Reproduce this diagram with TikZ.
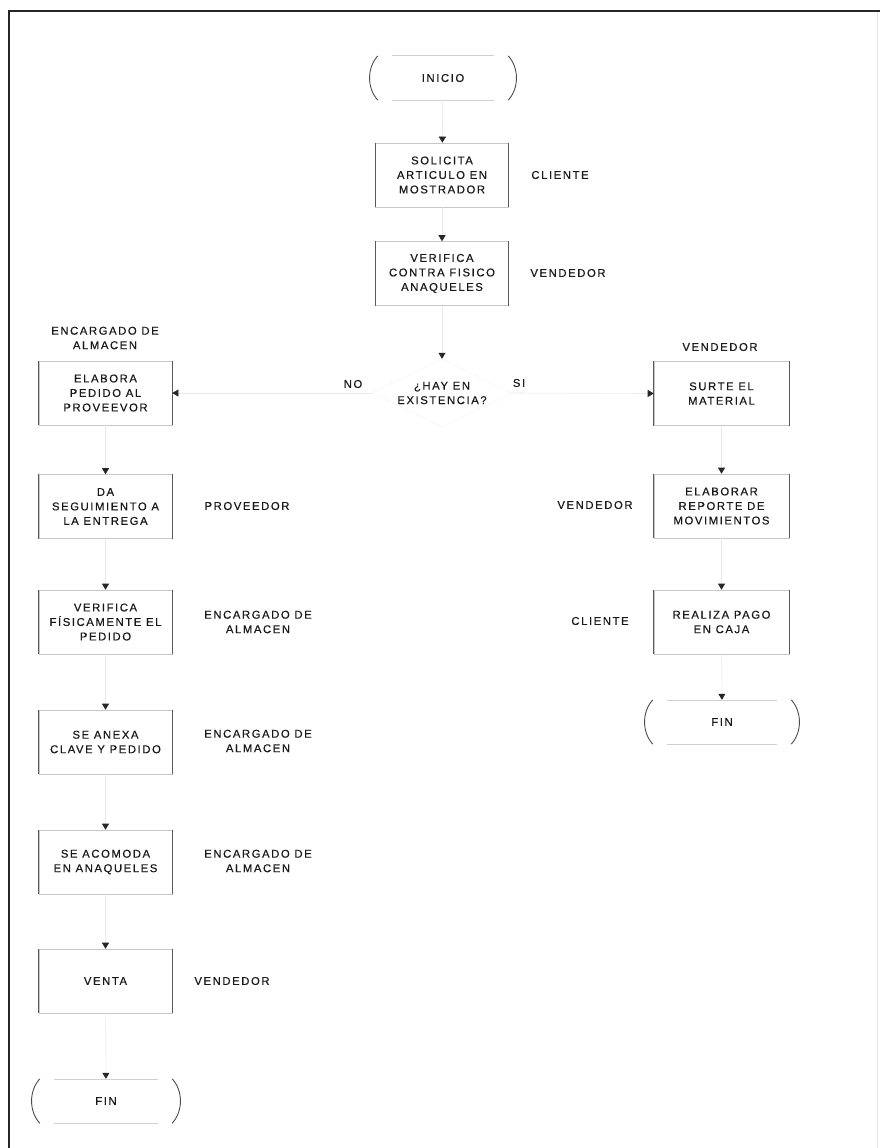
\documentclass[tikz,border=0pt]{standalone}
\usepackage{fontspec}
\setmainfont{Liberation Sans}[LetterSpace=14,FakeBold=0.5]
\usetikzlibrary{arrows.meta,shapes.geometric}
\begin{document}
\begin{tikzpicture}[x=1pt,y=-1pt,
  every node/.style={font=\fontsize{11.3}{14.5}\selectfont, text=black!90},
  box/.style={rectangle, draw=black!22, line width=0.6pt, minimum width=133pt,
    minimum height=64pt, align=center, inner sep=2pt,
    append after command={
      (\tikzlastnode.north west) edge[black!65,line width=0.9pt] (\tikzlastnode.south west)
      (\tikzlastnode.north east) edge[black!65,line width=0.9pt] (\tikzlastnode.south east)}},
  term/.style={rectangle, minimum height=44pt, align=center, inner sep=2pt,
    append after command={
      (\tikzlastnode.north west) edge[black!70,line width=0.9pt,
         to path={.. controls +(-11,12) and +(-11,-12) .. (\tikztotarget)}] (\tikzlastnode.south west)
      (\tikzlastnode.north east) edge[black!70,line width=0.9pt,
         to path={.. controls +(11,12) and +(11,-12) .. (\tikztotarget)}] (\tikzlastnode.south east)
      ([xshift=14pt]\tikzlastnode.north west) edge[black!18,line width=0.6pt] ([xshift=-14pt]\tikzlastnode.north east)
      ([xshift=14pt]\tikzlastnode.south west) edge[black!18,line width=0.6pt] ([xshift=-14pt]\tikzlastnode.south east)}},
  dec/.style={diamond, aspect=2, draw=black!5, inner sep=0pt, minimum width=140pt,
    minimum height=68pt, align=center},
  role/.style={align=center},
  conn/.style={draw=black!9, line width=0.6pt,
    -{Triangle[length=6pt,width=7pt,color=black!85]}}
]
\useasboundingbox (0,0) rectangle (880,1148);
% frame
\draw[black!85,line width=1.3pt] (9,1148) -- (9,11) -- (880,11);
\draw[black!10,line width=0.6pt] (877,12) -- (877,1148);

% center column
\node[term, minimum width=130pt] (ini) at (443,78) {INICIO};
\node[box] (sol) at (442,175) {SOLICITA\\ARTICULO EN\\MOSTRADOR};
\node[box] (ver) at (442,273.5) {VERIFICA\\CONTRA FISICO\\ANAQUELES};
\node[dec] (dec) at (442,393) {¿HAY EN\\EXISTENCIA?};
\node (no) at (353,384) {NO};
\node (si) at (519,383) {SI};

% left column
\node[role] (r1) at (105,338) {ENCARGADO DE\\ALMACEN};
\node[box] (elab) at (105.5,393) {ELABORA\\PEDIDO AL\\PROVEEVOR};
\node[box] (da) at (105.5,506.5) {DA\\SEGUIMIENTO A\\LA ENTREGA};
\node[box] (verf) at (105.5,622) {VERIFICA\\FÍSICAMENTE EL\\PEDIDO};
\node[box] (anexa) at (105.5,742) {SE ANEXA\\CLAVE Y PEDIDO};
\node[box] (acom) at (105.5,862) {SE ACOMODA\\EN ANAQUELES};
\node[box] (venta) at (105.5,981) {VENTA};
\node[term, minimum width=132pt] (fin1) at (106,1101) {FIN};

\node[role] (r2) at (247,506) {PROVEEDOR};
\node[role] (r3) at (258,622) {ENCARGADO DE\\ALMACEN};
\node[role] (r4) at (258,741) {ENCARGADO DE\\ALMACEN};
\node[role] (r5) at (258,861) {ENCARGADO DE\\ALMACEN};
\node[role] (r6) at (232,981) {VENDEDOR};

% right column
\node[role] (r7) at (720,347) {VENDEDOR};
\node[box, minimum width=135pt] (surte) at (721.5,393.5) {SURTE EL\\MATERIAL};
\node[box, minimum width=135pt] (rep) at (721.5,506) {ELABORAR\\REPORTE DE\\MOVIMIENTOS};
\node[box, minimum width=135pt] (pago) at (721.5,622) {REALIZA PAGO\\EN CAJA};
\node[term, minimum width=138pt] (fin2) at (722,722) {FIN};
\node[role] (r8) at (595,505) {VENDEDOR};
\node[role] (r9) at (600,621) {CLIENTE};

% center labels
\node[role] (c1) at (560,175) {CLIENTE};
\node[role] (c2) at (568,273) {VENDEDOR};

% connectors
\draw[conn] (ini) -- (sol);
\draw[conn] (sol) -- (ver);
\draw[conn] (ver) -- (dec);
\draw[conn] (dec.west) -- (elab.east);
\draw[conn] (dec.east) -- (surte.west);
\draw[conn] (elab) -- (da);
\draw[conn] (da) -- (verf);
\draw[conn] (verf) -- (anexa);
\draw[conn] (anexa) -- (acom);
\draw[conn] (acom) -- (venta);
\draw[conn] (venta) -- (fin1);
\draw[conn] (surte) -- (rep);
\draw[conn] (rep) -- (pago);
\draw[conn] (pago) -- (fin2);
\end{tikzpicture}
\end{document}
